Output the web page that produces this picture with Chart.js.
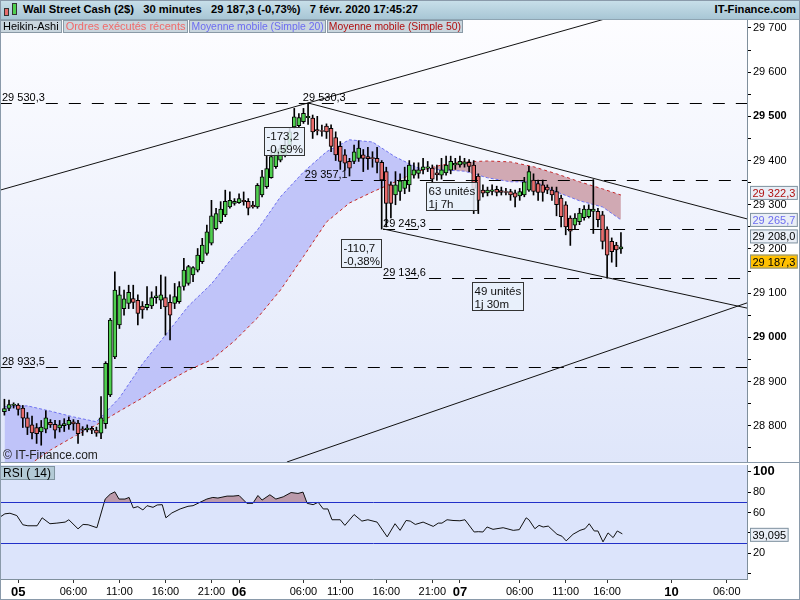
<!DOCTYPE html>
<html>
<head>
<meta charset="utf-8">
<script src="https://cdn.jsdelivr.net/npm/chart.js@4"></script>
<style>
  body { margin: 0; width: 800px; height: 600px; overflow: hidden; position: relative; background: #fff;
         font-family: "Liberation Sans", Arial, sans-serif; }
  #hdr { position: absolute; left: 0; top: 0; width: 800px; height: 20px; box-sizing: border-box;
         background: linear-gradient(#c9e0ea, #a8c6d5); border-bottom: 1px solid #8ea4b2;
         font-weight: bold; font-size: 11.2px; line-height: 19px; white-space: pre; }
  #hdr .t { position: absolute; left: 23px; top: 0; }
  #hdr .r { position: absolute; right: 4px; top: 0; }
  .ico { position: absolute; border: 1px solid #333; width: 3px; }
  #legs { position: absolute; left: 0; top: 20px; display: flex; z-index: 2; }
  .leg { height: 13px; box-sizing: border-box; background: #c9d6de; margin-right: 1px;
         border: 1px solid #8a9aa6; font-size: 11px; line-height: 11px; padding: 0 2px; white-space: nowrap; }
  .leg.n { font-size: 10.4px; padding: 0 1px; }
  canvas { position: absolute; left: 0; }
  #frame { position: absolute; left: 0; top: 0; width: 800px; height: 600px; box-sizing: border-box;
           border: 1px solid #8a9aaa; pointer-events: none; z-index: 3; }
</style>
</head>
<body>
<div id="hdr">
  <div class="ico" style="left:4px;top:8px;height:6px;background:#e56b6b"></div>
  <div class="ico" style="left:12px;top:3px;height:10px;background:#4fd04f"></div>
  <span class="t">Wall Street Cash (2$)   30 minutes   29 187,3 (-0,73%)   7 févr. 2020 17:45:27</span>
  <span class="r">IT-Finance.com</span>
</div>
<div id="legs">
  <div class="leg" style="color:#000">Heikin-Ashi</div>
  <div class="leg" style="color:#f06a6a">Ordres exécutés récents</div>
  <div class="leg n" style="color:#6c6cf0">Moyenne mobile (Simple 20)</div>
  <div class="leg n" style="color:#b01010">Moyenne mobile (Simple 50)</div>
</div>
<canvas id="price" width="800" height="443" style="top:20px"></canvas>
<canvas id="rsi" width="800" height="137" style="top:463px"></canvas>
<div id="frame"></div>
<script>
// Heikin-Ashi 30 min bars
const opens = [28832,28839,28846,28847,28840,28818,28802,28796,28786,28792,28808,28803,28795,28800,28802,28809,28806,28793,28791,28794,
  28790,28783,28805,28870,28956,29028,29065,29077,29088,29084,29071,29067,29071,29090,29084,29090,29079,29077,29081,29115,
  29122,29141,29152,29171,29190,29213,29246,29262,29277,29295,29303,29305,29310,29308,29299,29295,29322,29341,29361,29386,
  29401,29412,29435,29476,29479,29488,29497,29496,29470,29468,29478,29473,29452,29432,29413,29398,29398,29405,29413,29409,
  29407,29405,29396,29375,29345,29322,29330,29337,29345,29367,29371,29379,29383,29383,29372,29367,29372,29378,29390,29390,
  29392,29396,29390,29365,29333,29327,29330,29335,29332,29330,29330,29327,29320,29322,29333,29356,29348,29345,29340,29333,
  29330,29315,29300,29270,29254,29262,29271,29273,29285,29285,29277,29245,29217,29209,29200];
const highs = [28860,28858,28852,28850,28846,28830,28822,28805,28812,28834,28814,28812,28812,28816,28820,28814,28812,28798,28802,28798,
  28797,28866,28945,29043,29148,29115,29107,29118,29118,29096,29081,29115,29103,29115,29141,29137,29096,29122,29126,29179,
  29163,29160,29201,29224,29254,29310,29292,29307,29333,29329,29314,29325,29329,29314,29308,29348,29378,29412,29424,29427,
  29435,29446,29473,29518,29506,29518,29530,29503,29500,29480,29483,29481,29465,29443,29425,29405,29435,29445,29425,29430,
  29420,29430,29400,29385,29352,29375,29370,29385,29400,29395,29395,29405,29398,29390,29390,29405,29410,29410,29405,29410,
  29405,29402,29400,29370,29345,29340,29345,29342,29340,29337,29335,29333,29337,29362,29387,29370,29356,29356,29345,29340,
  29340,29322,29307,29275,29280,29292,29298,29300,29357,29292,29285,29250,29225,29215,29237];
const lows = [28824,28834,28840,28824,28796,28780,28770,28760,28756,28784,28796,28772,28786,28787,28792,28790,28760,28778,28786,28782,
  28776,28771,28794,28866,28952,29020,29050,29065,29065,29028,29043,29062,29065,29077,29065,29005,28994,29065,29077,29107,
  29118,29126,29148,29167,29186,29209,29243,29258,29273,29292,29299,29303,29299,29277,29292,29292,29318,29337,29360,29382,
  29397,29408,29431,29473,29476,29484,29482,29450,29458,29455,29450,29420,29400,29380,29378,29365,29393,29398,29375,29380,
  29385,29372,29245,29250,29270,29300,29310,29325,29330,29360,29360,29370,29375,29350,29355,29358,29367,29370,29380,29385,
  29385,29375,29280,29280,29318,29320,29322,29320,29322,29322,29310,29295,29310,29318,29330,29322,29310,29308,29325,29310,
  29275,29250,29232,29208,29245,29255,29265,29270,29235,29250,29200,29134,29170,29160,29190];
const closes = [28839,28848,28849,28837,28817,28796,28784,28782,28797,28818,28802,28790,28802,28805,28812,28804,28782,28790,28795,28790,
  28783,28818,28941,29039,29107,29096,29087,29102,29079,29054,29062,29075,29090,29094,29096,29069,29050,29092,29115,29152,
  29160,29158,29186,29209,29239,29275,29280,29290,29308,29310,29308,29314,29307,29292,29295,29344,29363,29382,29409,29424,
  29427,29435,29465,29499,29497,29507,29500,29465,29467,29466,29465,29432,29413,29398,29394,29383,29420,29428,29405,29404,
  29404,29396,29356,29303,29303,29345,29354,29356,29390,29379,29379,29386,29386,29358,29368,29379,29390,29398,29394,29398,
  29397,29387,29337,29310,29326,29333,29334,29328,29328,29328,29322,29317,29330,29352,29375,29330,29328,29328,29333,29322,
  29300,29273,29250,29240,29270,29281,29290,29290,29290,29266,29217,29186,29194,29198,29205];

// moving averages, sampled every 5 bars
const maIdx = [0,5,10,15,20,25,30,35,40,45,50,55,60,65,70,75,80,85,90,95,100,105,110,115,120,125,130,134];
const ma20 = [28843,28845,28833,28820,28809,28863,28940,29005,29071,29121,29186,29243,29318,29374,29420,29447,29442,29408,29383,29379,29376,29361,29352,29352,29329,29309,29295,29266];
const ma50 = [28677,28709,28745,28775,28802,28833,28863,28897,28926,28949,28992,29044,29107,29183,29261,29304,29329,29352,29376,29390,29397,29399,29397,29386,29370,29352,29336,29322];

// RSI(14): bar position, value
const rsiIdx = [-1,0.1,1.2,2.7,4,5.1,7.1,8.2,9.9,11.4,13.2,14,16,17.1,18.2,20.1,21.9,23,24,24.9,26.2,27.1,28,29,30.1,31,32.3,33.2,34.3,35.1,
  36.4,38.2,39.9,41,42.5,44,45.3,46.4,48.4,49.7,51,52.7,54,55.1,56,57.7,59,60.6,62.3,63.8,64.9,65.8,67.1,68.2,69.3,70.3,71.2,73,74,76,
  77.7,79,81,83.2,84.9,86,87.3,88.2,89.3,91,93.2,94.3,95.1,96.2,97.5,99,100.1,102.1,103,104,104.9,106.2,108.4,110.6,111.9,113.4,114,115.3,116.2,117.1,
  118.2,120.1,121.2,122.1,123.6,125.1,126.2,127.1,128.2,129,130.1,131.2,132.3,133.2,134.3];
const rsiVal = [55.4,58.7,59.3,57,48,47,47,54.8,49,49.6,50.6,52.9,44,48.3,48,45.1,73.2,78,80.3,73.2,73.2,74.8,64.5,65.8,62.5,66.7,65.1,67.4,67.7,54.8,
  59.6,63.5,66.1,66.7,70,73.2,74.8,74.2,76.1,76.1,76.7,69,69,76.7,72.2,77.4,73.2,75.4,79.6,78.7,80,69,67.7,70,63.5,63.5,52.9,52.9,47.4,58,
  51.6,52.9,50.6,36.1,49,42.5,52.2,51.6,48.3,50.6,46.4,49.6,49.6,52.9,52.2,51.9,52.9,40.9,41.2,40.9,45.8,43.5,45.1,42.5,43.2,54.8,52.9,44.1,47.4,45.8,
  46.7,38.7,36.7,32.2,38.7,42.5,44.1,49,41.9,41.9,31.2,40,35.4,41.9,39.095];

// time axis labels (bar position)
const xTickPos = [3,15,25,35,45,51,65,73,83,93,99,112,122,131,145,157];
const xTickLabels = ['05','06:00','11:00','16:00','21:00','06','06:00','11:00','16:00','21:00','07','06:00','11:00','16:00','10','06:00'];
const dayLabels = ['05','06','07','10'];

// horizontal levels drawn on the chart
const levels = [29530.3, 29357.1, 29245.3, 29134.6, 28933.5];
const levelFrom = [-1, 65.3, 82.3, 82.3, -1];
// trend lines: two points each, [bar, price]
const trendLines = [
  [[-0.96, 29333], [66, 29530.3]],
  [[66, 29530.3], [161.4, 29268]],
  [[82.3, 29245.3], [131.2, 29134.6]],
  [[61.4, 28718], [161.4, 29078]]
];
// measurement boxes
const notes = [
  { x: 56.4, y: 29476, lines: ['-173,2', '-0,59%'] },
  { x: 73.2, y: 29222.6, lines: ['-110,7', '-0,38%'] },
  { x: 91.6, y: 29351.6, lines: ['63 unités', '1j 7h'] },
  { x: 101.7, y: 29125.3, lines: ['49 unités', '1j 30m'] }
];
// last values shown on the price axis
const lastMa50 = 29322.3, lastMa20 = 29265.7, lastOther = 29208.0, lastPrice = 29187.3;
const lastRsi = 39.095;

const xMin = -0.96, xMax = 161.4;
const FONT = '"Liberation Sans", Arial, sans-serif';

function frNum(v, dec) {
  const s = Math.abs(v).toFixed(dec).split('.');
  const ip = s[0].replace(/\B(?=(\d{3})+(?!\d))/g, ' ');
  return (v < 0 ? '-' : '') + ip + (s[1] ? ',' + s[1] : '');
}

const idx = opens.map((_, i) => i);
const upColor = '#4fd04f', downColor = '#e86c6c';

// keep the plot area exactly where the panel is
function noPad(s) {
  s.paddingTop = 0; s.paddingBottom = 0; s.paddingLeft = 0; s.paddingRight = 0;
}

function dashedLevel(ctx, x0, x1, y) {
  ctx.save();
  ctx.strokeStyle = '#000';
  ctx.lineWidth = 1;
  ctx.setLineDash([12, 11]);
  ctx.beginPath();
  ctx.moveTo(x0, Math.round(y) + 0.5);
  ctx.lineTo(x1, Math.round(y) + 0.5);
  ctx.stroke();
  ctx.restore();
}

function valueBox(ctx, x, yc, text, color, bg) {
  ctx.save();
  ctx.font = '11px ' + FONT;
  const w = ctx.measureText(text).width + 5;
  ctx.fillStyle = bg;
  ctx.fillRect(x, yc - 7, w, 14);
  ctx.strokeStyle = '#8093a0';
  ctx.strokeRect(x + 0.5, yc - 6.5, w - 1, 13);
  ctx.fillStyle = color;
  ctx.textBaseline = 'middle';
  ctx.fillText(text, x + 2.5, yc + 1);
  ctx.restore();
}

const pricePlugin = {
  id: 'pricePanel',
  beforeDraw(chart) {
    const { ctx, chartArea: a } = chart;
    const g = ctx.createLinearGradient(0, a.top, 0, a.bottom);
    g.addColorStop(0, '#fdfdff');
    g.addColorStop(1, '#dfe6fa');
    ctx.save();
    ctx.fillStyle = g;
    ctx.fillRect(a.left, a.top, a.right - a.left, a.bottom - a.top);
    ctx.restore();
  },
  afterDatasetsDraw(chart) {
    const { ctx, chartArea: a, scales: { x, y } } = chart;
    ctx.save();
    ctx.beginPath();
    ctx.rect(a.left, a.top, a.right - a.left, a.bottom - a.top);
    ctx.clip();
    levels.forEach((lv, k) => dashedLevel(ctx, x.getPixelForValue(levelFrom[k]), a.right, y.getPixelForValue(lv)));
    ctx.strokeStyle = '#111';
    ctx.lineWidth = 1;
    trendLines.forEach(([p, q]) => {
      const x1 = x.getPixelForValue(p[0]), y1 = y.getPixelForValue(p[1]);
      const x2 = x.getPixelForValue(q[0]), y2 = y.getPixelForValue(q[1]);
      const s = (y2 - y1) / (x2 - x1);
      ctx.beginPath();
      ctx.moveTo(x1, y1);
      ctx.lineTo(a.right, y1 + s * (a.right - x1));
      ctx.stroke();
    });
    // level labels
    ctx.fillStyle = '#000';
    ctx.font = '11px ' + FONT;
    ctx.textBaseline = 'alphabetic';
    const lab = (v, xv) => ctx.fillText(frNum(v, 1), xv, y.getPixelForValue(v) - 2);
    lab(levels[0], 2);
    lab(levels[0], x.getPixelForValue(levelFrom[1]) - 2);
    lab(levels[1], x.getPixelForValue(levelFrom[1]));
    lab(levels[2], x.getPixelForValue(levelFrom[2]));
    lab(levels[3], x.getPixelForValue(levelFrom[3]));
    lab(levels[4], 2);
    // measurement boxes
    ctx.font = '11.5px ' + FONT;
    notes.forEach(n => {
      const bx = Math.round(x.getPixelForValue(n.x)) + 0.5, by = Math.round(y.getPixelForValue(n.y)) + 0.5;
      const w = Math.round(Math.max(...n.lines.map(t => ctx.measureText(t).width)) + 4);
      ctx.fillStyle = 'rgba(232,240,250,0.85)';
      ctx.fillRect(bx, by, w, 28);
      ctx.strokeStyle = '#333';
      ctx.strokeRect(bx, by, w, 28);
      ctx.fillStyle = '#111';
      n.lines.forEach((t, k) => ctx.fillText(t, bx + 2, by + 12 + k * 13));
    });
    ctx.font = '12px ' + FONT;
    ctx.fillStyle = '#222';
    ctx.fillText('© IT-Finance.com', 3, a.bottom - 3);
    ctx.restore();
  },
  afterDraw(chart) {
    const { ctx, chartArea: a, scales: { y } } = chart;
    ctx.save();
    ctx.strokeStyle = '#8a9aaa';
    ctx.beginPath();
    ctx.moveTo(0, a.bottom + 0.5);
    ctx.lineTo(800, a.bottom + 0.5);
    ctx.stroke();
    ctx.restore();
    const bx = a.right + 3;
    valueBox(ctx, bx, y.getPixelForValue(lastMa50) - 2, frNum(lastMa50, 1), '#b01010', '#e9eef6');
    valueBox(ctx, bx, y.getPixelForValue(lastMa20), frNum(lastMa20, 1), '#6c6cf0', '#e9eef6');
    valueBox(ctx, bx, y.getPixelForValue(lastOther) - 9, frNum(lastOther, 1), '#000', '#e9eef6');
    valueBox(ctx, bx, y.getPixelForValue(lastPrice) + 7, frNum(lastPrice, 1), '#000', '#ffc000');
  }
};

new Chart(document.getElementById('price'), {
  type: 'bar',
  data: {
    datasets: [
      {
        type: 'bar', label: 'Heikin-Ashi',
        data: idx.map(i => ({ x: i, y: [opens[i], closes[i]] })),
        backgroundColor: idx.map(i => closes[i] >= opens[i] ? upColor : downColor),
        borderColor: '#000', borderWidth: 1, borderSkipped: false,
        barThickness: 4, grouped: false, order: 0
      },
      {
        type: 'bar', label: 'mèches',
        data: idx.map(i => ({ x: i, y: [lows[i], highs[i]] })),
        backgroundColor: '#000', borderWidth: 0,
        barThickness: 1, grouped: false, order: 1
      },
      {
        type: 'line', label: 'Moyenne mobile (Simple 20)',
        data: maIdx.map((v, k) => ({ x: v, y: ma20[k] })),
        borderColor: '#6f72f0', borderWidth: 1, borderDash: [3, 2], pointRadius: 0,
        fill: { target: 3, above: 'rgba(184,188,248,0.85)', below: 'rgba(200,150,160,0.8)' },
        order: 3
      },
      {
        type: 'line', label: 'Moyenne mobile (Simple 50)',
        data: maIdx.map((v, k) => ({ x: v, y: ma50[k] })),
        borderColor: '#c62828', borderWidth: 1, borderDash: [3, 3], pointRadius: 0,
        fill: false, order: 2
      }
    ]
  },
  options: {
    responsive: false, animation: false,
    layout: { padding: { top: 0, bottom: 1, left: 0, right: 0 } },
    plugins: { legend: { display: false }, tooltip: { enabled: false } },
    scales: {
      x: { type: 'linear', min: xMin, max: xMax, offset: false, display: false },
      y: {
        position: 'right', min: 28718, max: 29718,
        afterFit: s => { s.width = 53; noPad(s); },
        afterBuildTicks: s => {
          const t = [];
          for (let v = 28750; v <= 29700; v += 50) t.push({ value: v });
          s.ticks = t;
        },
        border: { color: '#7f8f9c' },
        grid: { drawOnChartArea: false, tickLength: 4, color: '#000' },
        ticks: {
          padding: 2, color: '#000',
          font: c => c.tick && c.tick.value % 500 === 0
            ? { size: 11, weight: 'bold', family: FONT }
            : { size: 11, family: FONT },
          callback: v => v % 100 === 0 ? frNum(v, 0) : ''
        }
      }
    }
  },
  plugins: [pricePlugin]
});

const rsiPlugin = {
  id: 'rsiPanel',
  beforeDraw(chart) {
    const { ctx, chartArea: a } = chart;
    ctx.save();
    ctx.fillStyle = '#dce4fb';
    ctx.fillRect(a.left, a.top, a.right - a.left, a.bottom - a.top);
    ctx.restore();
  },
  afterDatasetsDraw(chart) {
    const { ctx, chartArea: a, scales: { y } } = chart;
    ctx.save();
    ctx.strokeStyle = '#2230c8';
    ctx.lineWidth = 1;
    [70, 30].forEach(v => {
      const py = Math.round(y.getPixelForValue(v)) + 0.5;
      ctx.beginPath();
      ctx.moveTo(a.left, py);
      ctx.lineTo(a.right, py);
      ctx.stroke();
    });
    ctx.strokeStyle = '#7f8f9c';
    ctx.beginPath();
    ctx.moveTo(0, a.bottom + 0.5);
    ctx.lineTo(a.right, a.bottom + 0.5);
    ctx.stroke();
    // panel title
    ctx.font = '12px ' + FONT;
    const w = ctx.measureText('RSI ( 14)').width + 6;
    ctx.fillStyle = '#b3cad6';
    ctx.fillRect(0, a.top + 1, w, 14);
    ctx.strokeStyle = '#7f939f';
    ctx.strokeRect(0.5, a.top + 1.5, w, 13);
    ctx.fillStyle = '#000';
    ctx.fillText('RSI ( 14)', 3, a.top + 12);
    ctx.restore();
  },
  afterDraw(chart) {
    const { ctx, chartArea: a, scales: { y } } = chart;
    valueBox(ctx, a.right + 3, y.getPixelForValue(lastRsi) + 1, frNum(lastRsi, 3), '#000', '#e9eef6');
  }
};

new Chart(document.getElementById('rsi'), {
  type: 'line',
  data: {
    datasets: [{
      label: 'RSI ( 14)',
      data: rsiIdx.map((v, k) => ({ x: v, y: rsiVal[k] })),
      borderColor: '#111', borderWidth: 1, pointRadius: 0, tension: 0,
      fill: { value: 70, above: 'rgba(184,150,166,0.95)', below: 'rgba(0,0,0,0)' }
    }]
  },
  options: {
    responsive: false, animation: false,
    layout: { padding: { top: 2, bottom: 0, left: 0, right: 0 } },
    plugins: { legend: { display: false }, tooltip: { enabled: false } },
    scales: {
      x: {
        type: 'linear', min: xMin, max: xMax, offset: false,
        afterFit: s => { s.height = 21; noPad(s); },
        afterBuildTicks: s => { s.ticks = xTickPos.map(v => ({ value: v })); },
        border: { display: false },
        grid: { drawOnChartArea: false, tickLength: 4, color: '#333' },
        ticks: {
          autoSkip: false, maxRotation: 0, padding: 2, color: '#000',
          callback: (v, i) => xTickLabels[i],
          font: c => dayLabels.includes(xTickLabels[c.index])
            ? { size: 13, weight: 'bold', family: FONT }
            : { size: 11, family: FONT }
        }
      },
      y: {
        position: 'right', min: -5.2, max: 106.6,
        afterFit: s => { s.width = 53; noPad(s); },
        afterBuildTicks: s => {
          const t = [];
          for (let v = 0; v <= 100; v += 10) t.push({ value: v });
          s.ticks = t;
        },
        border: { color: '#7f8f9c' },
        grid: { drawOnChartArea: false, tickLength: 4, color: '#000' },
        ticks: {
          padding: 2, color: '#000',
          callback: v => (v > 0 && v % 20 === 0) ? String(v) : '',
          font: c => c.tick && c.tick.value === 100
            ? { size: 13, weight: 'bold', family: FONT }
            : { size: 11, family: FONT }
        }
      }
    }
  },
  plugins: [rsiPlugin]
});
</script>
</body>
</html>
